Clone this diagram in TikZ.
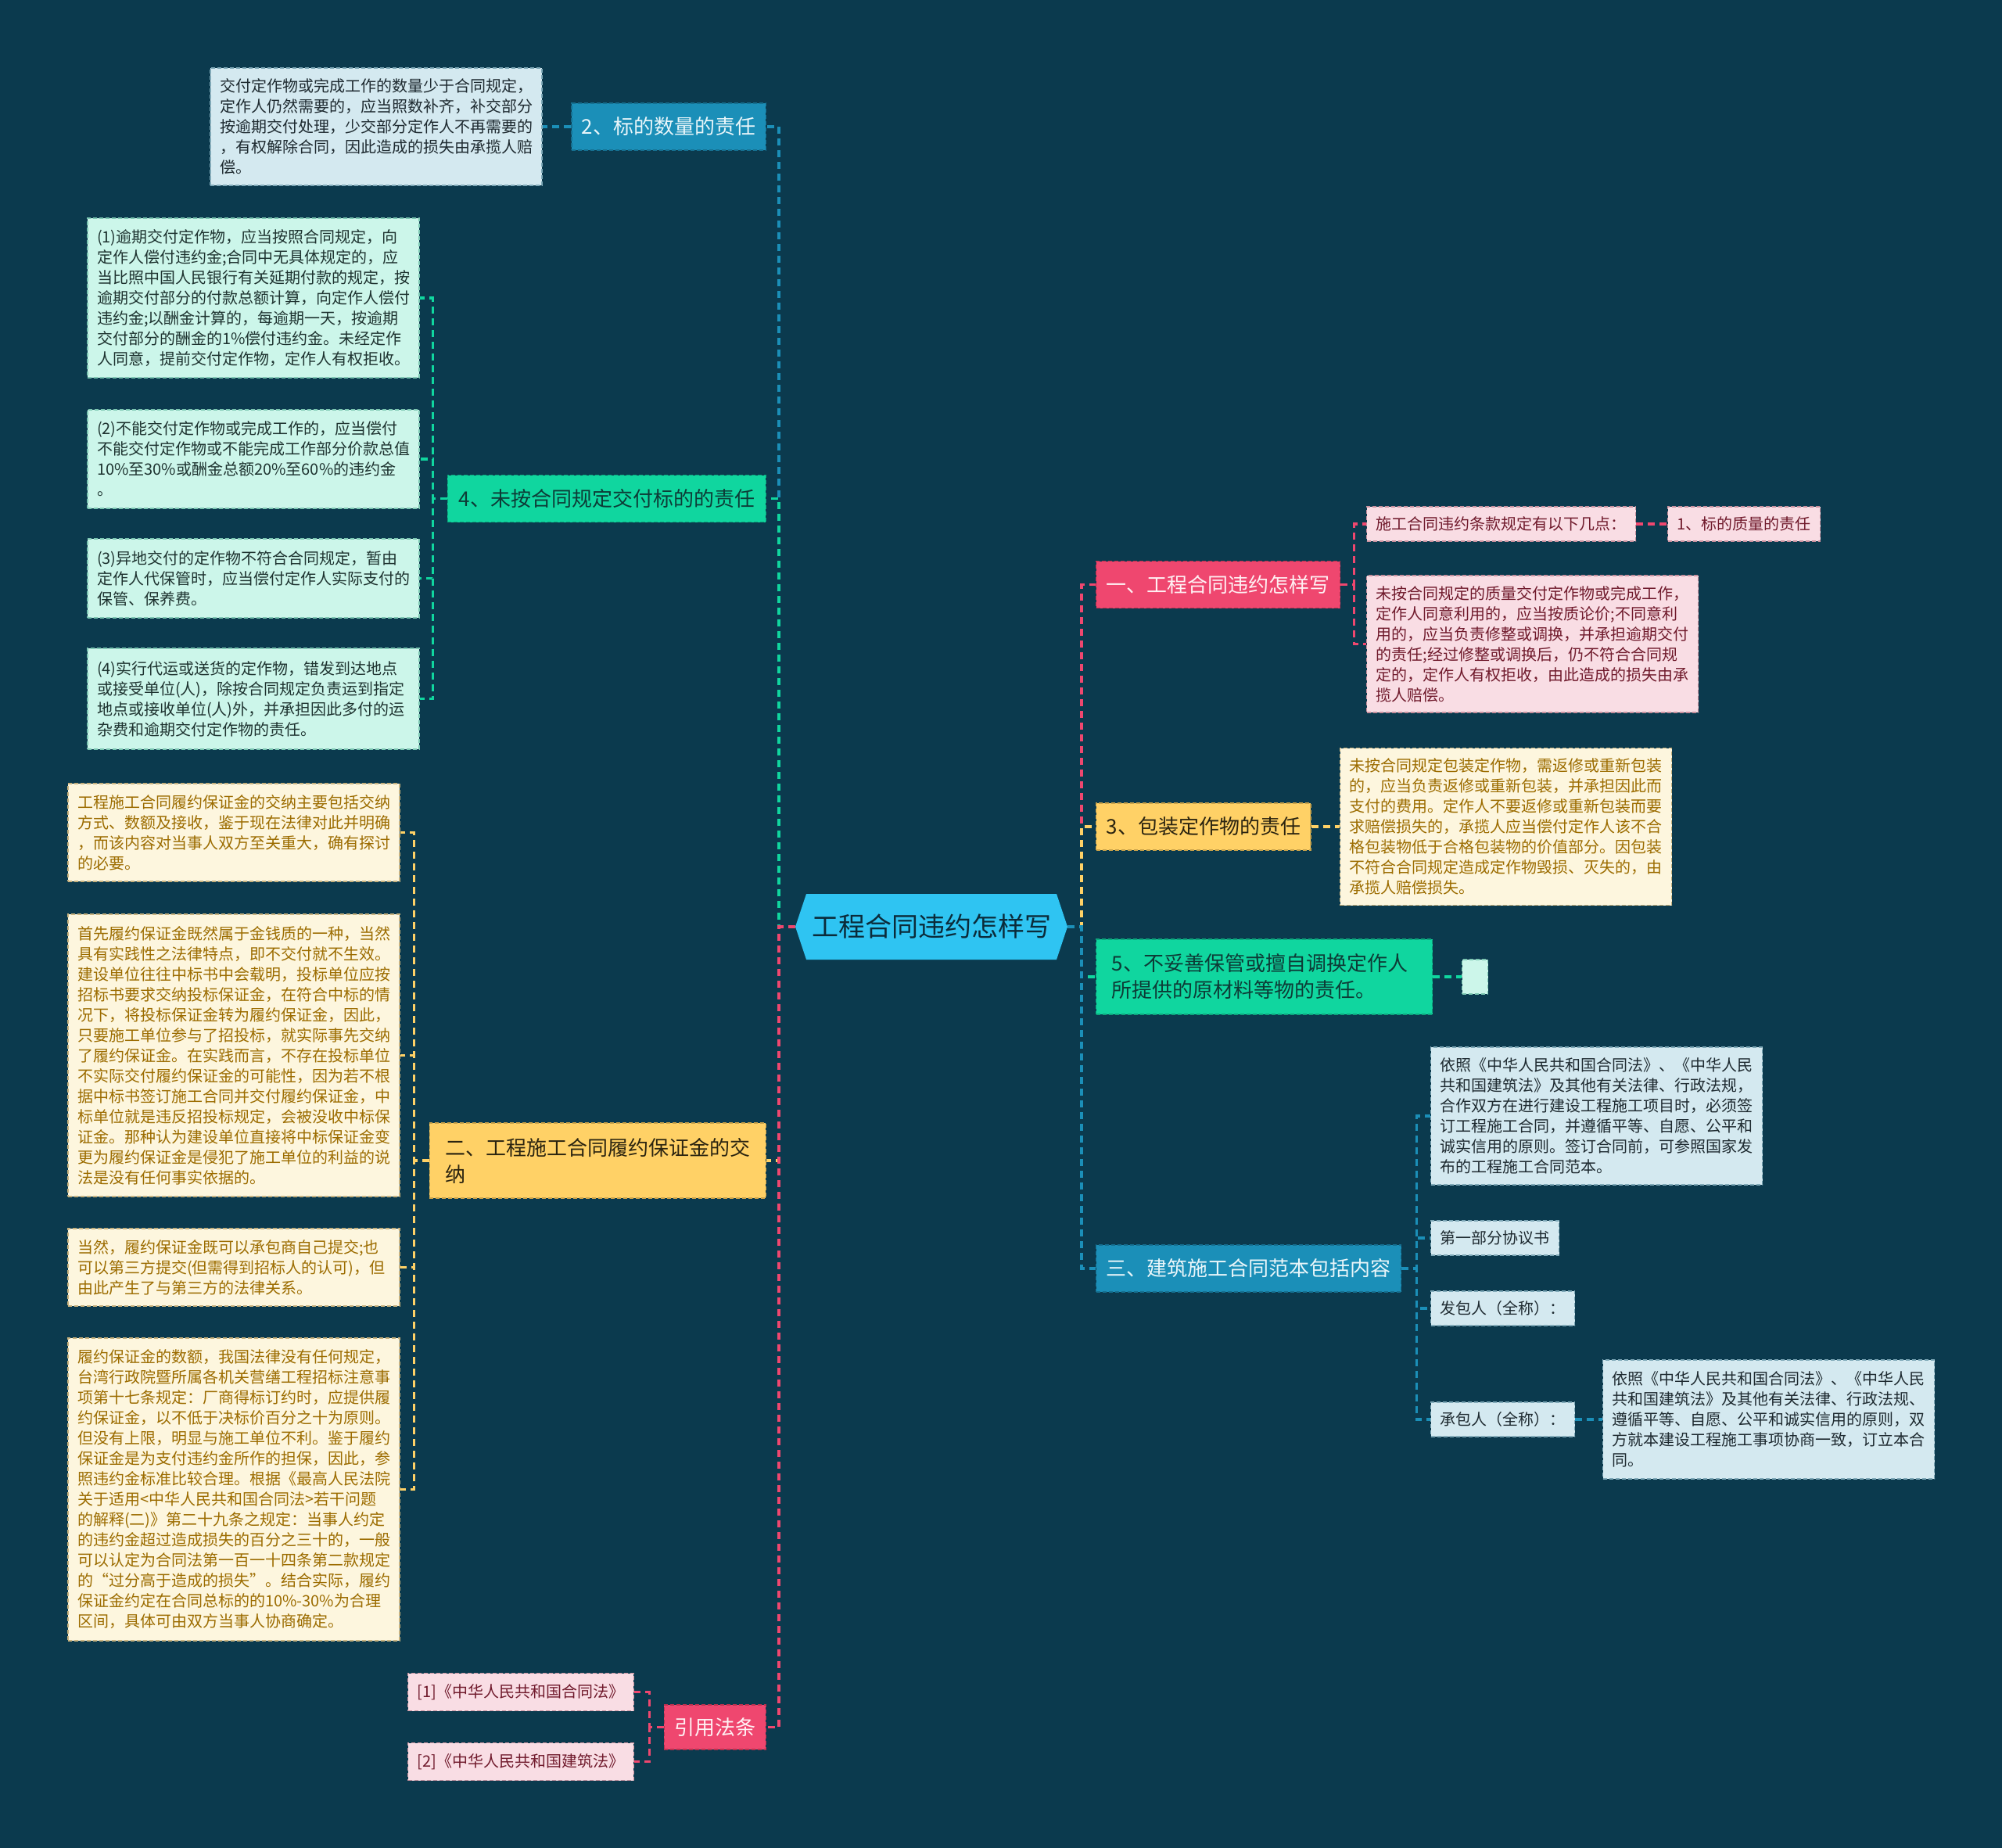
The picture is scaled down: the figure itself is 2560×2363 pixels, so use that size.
\documentclass[tikz,border=0pt]{standalone}
\usepackage{fontspec}
\setmainfont{Noto Sans CJK SC}
\definecolor{bg}{HTML}{0B3A4E}
\definecolor{cB}{HTML}{1B8FB8}
\definecolor{cBd}{HTML}{156F90}
\definecolor{tB}{HTML}{E9F6FA}
\definecolor{cG}{HTML}{10D69F}
\definecolor{cGd}{HTML}{0CA67C}
\definecolor{tG}{HTML}{0D3B36}
\definecolor{cY}{HTML}{FFD166}
\definecolor{cYd}{HTML}{C9A24A}
\definecolor{tY}{HTML}{2B2410}
\definecolor{cP}{HTML}{EF476F}
\definecolor{cPd}{HTML}{B8304F}
\definecolor{tP}{HTML}{FFF0F3}
\definecolor{cC}{HTML}{2FC4F2}
\definecolor{tC}{HTML}{0B2B3A}
\definecolor{fB}{HTML}{D4E9F0}
\definecolor{dB}{HTML}{7FA9B8}
\definecolor{xB}{HTML}{1E2A30}
\definecolor{fG}{HTML}{CCF6EA}
\definecolor{dG}{HTML}{7CC7B2}
\definecolor{xG}{HTML}{1E3330}
\definecolor{fY}{HTML}{FDF6DE}
\definecolor{dY}{HTML}{C8B27E}
\definecolor{xY}{HTML}{9C6C00}
\definecolor{fP}{HTML}{F9DDE4}
\definecolor{dP}{HTML}{C9909E}
\definecolor{xP}{HTML}{701A2C}
\tikzset{
  leaf/.style={draw, dash pattern=on 5pt off 3pt, line width=1.2pt,
    font=\fontsize{20pt}{26pt}\selectfont, inner xsep=12pt, inner ysep=0pt, align=left},
  mlt/.style={leaf, text width=400pt},
  lB/.style={fill=fB, draw=dB, text=xB},
  lG/.style={fill=fG, draw=dG, text=xG},
  lY/.style={fill=fY, draw=dY, text=xY},
  lP/.style={fill=fP, draw=dP, text=xP},
  topn/.style={draw, dash pattern=on 5pt off 3pt, line width=1.2pt,
    font=\fontsize{26pt}{34pt}\selectfont, inner xsep=13pt, inner ysep=0pt, minimum height=60pt},
  twon/.style={topn, text width=390pt, inner xsep=20pt, minimum height=96pt, align=left},
  nB/.style={fill=cB, draw=cBd, text=tB},
  nG/.style={fill=cG, draw=cGd, text=tG},
  nY/.style={fill=cY, draw=cYd, text=tY},
  nP/.style={fill=cP, draw=cPd, text=tP},
  edge/.style={line width=3.2pt, dash pattern=on 9pt off 6pt},
  eB/.style={edge, draw=cB},
  eG/.style={edge, draw=cG},
  eY/.style={edge, draw=cY},
  eP/.style={edge, draw=cP},
}
\begin{document}
\begin{tikzpicture}[x=1pt,y=-1pt]
\fill[bg] (0,0) rectangle (2560,2363);
\useasboundingbox (0,0) rectangle (2560,2363);

% central
\coordinate (cL) at (1017,1185);
\coordinate (cR) at (1365,1185);
\coordinate (lt) at (996,1185);
\coordinate (rt) at (1383,1185);
\fill[cC] (cL) -- (1031,1143) -- (1351,1143) -- (cR) -- (1351,1227) -- (1031,1227) -- cycle;
\node[font=\fontsize{34pt}{40pt}\selectfont, text=tC] (c) at (1191,1185) {工程合同违约怎样写};

% ---- left side ----
\node[mlt,lB,minimum height=150pt] (A) at (481,162) {交付定作物或完成工作的数量少于合同规定，\\定作人仍然需要的，应当照数补齐，补交部分\\按逾期交付处理，少交部分定作人不再需要的\\，有权解除合同，因此造成的损失由承揽人赔\\偿。};
\node[topn,nB,anchor=east] (n2) at (980,162) {2、标的数量的责任};

\node[mlt,lG,minimum height=204pt] (B1) at (324,381) {(1)逾期交付定作物，应当按照合同规定，向\\定作人偿付违约金;合同中无具体规定的，应\\当比照中国人民银行有关延期付款的规定，按\\逾期交付部分的付款总额计算，向定作人偿付\\违约金;以酬金计算的，每逾期一天，按逾期\\交付部分的酬金的1\%偿付违约金。未经定作\\人同意，提前交付定作物，定作人有权拒收。};
\node[mlt,lG,minimum height=126pt] (B2) at (324,587) {(2)不能交付定作物或完成工作的，应当偿付\\不能交付定作物或不能完成工作部分价款总值\\10\%至30\%或酬金总额20\%至60\%的违约金\\。};
\node[mlt,lG,minimum height=101pt] (B3) at (324,739.5) {(3)异地交付的定作物不符合合同规定，暂由\\定作人代保管时，应当偿付定作人实际支付的\\保管、保养费。};
\node[mlt,lG,minimum height=129pt] (B4) at (324,893.5) {(4)实行代运或送货的定作物，错发到达地点\\或接受单位(人)，除按合同规定负责运到指定\\地点或接收单位(人)外，并承担因此多付的运\\杂费和逾期交付定作物的责任。};
\node[topn,nG,anchor=east,minimum width=407pt] (n4) at (980,637.5) {4、未按合同规定交付标的的责任};

\node[mlt,lY,minimum height=125pt] (C1) at (299,1064.5) {工程施工合同履约保证金的交纳主要包括交纳\\方式、数额及接收，鉴于现在法律对此并明确\\，而该内容对当事人双方至关重大，确有探讨\\的必要。};
\node[mlt,lY,minimum height=361pt] (C2) at (299,1349.5) {首先履约保证金既然属于金钱质的一种，当然\\具有实践性之法律特点，即不交付就不生效。\\建设单位往往中标书中会载明，投标单位应按\\招标书要求交纳投标保证金，在符合中标的情\\况下，将投标保证金转为履约保证金，因此，\\只要施工单位参与了招投标，就实际事先交纳\\了履约保证金。在实践而言，不存在投标单位\\不实际交付履约保证金的可能性，因为若不根\\据中标书签订施工合同并交付履约保证金，中\\标单位就是违反招投标规定，会被没收中标保\\证金。那种认为建设单位直接将中标保证金变\\更为履约保证金是侵犯了施工单位的利益的说\\法是没有任何事实依据的。};
\node[mlt,lY,minimum height=99pt] (C3) at (299,1620.5) {当然，履约保证金既可以承包商自己提交;也\\可以第三方提交(但需得到招标人的认可)，但\\由此产生了与第三方的法律关系。};
\node[mlt,lY,minimum height=387pt] (C4) at (299,1904.5) {履约保证金的数额，我国法律没有任何规定，\\台湾行政院暨所属各机关营缮工程招标注意事\\项第十七条规定：厂商得标订约时，应提供履\\约保证金，以不低于决标价百分之十为原则。\\但没有上限，明显与施工单位不利。鉴于履约\\保证金是为支付违约金所作的担保，因此，参\\照违约金标准比较合理。根据《最高人民法院\\关于适用<中华人民共和国合同法>若干问题\\的解释(二)》第二十九条之规定：当事人约定\\的违约金超过造成损失的百分之三十的，一般\\可以认定为合同法第一百一十四条第二款规定\\的“过分高于造成的损失”。结合实际，履约\\保证金约定在合同总标的的10\%-30\%为合理\\区间，具体可由双方当事人协商确定。};
\node[twon,nY,anchor=east] (nT) at (980,1484) {二、工程施工合同履约保证金的交\\纳};

\node[leaf,lP,anchor=east,minimum height=48pt] (R1) at (811,2163.5) {[1]《中华人民共和国合同法》};
\node[leaf,lP,anchor=east,minimum height=48pt] (R2) at (811,2252.5) {[2]《中华人民共和国建筑法》};
\node[topn,nP,anchor=east,minimum height=57pt] (nR) at (980,2208.5) {引用法条};

% ---- right side ----
\node[topn,nP,anchor=west] (m1) at (1401,747.5) {一、工程合同违约怎样写};
\node[leaf,lP,anchor=west,minimum height=44pt] (P1) at (1747,670) {施工合同违约条款规定有以下几点：};
\node[leaf,lP,anchor=west,minimum height=44pt] (P2) at (2132,670) {1、标的质量的责任};
\node[mlt,lP,anchor=west,minimum height=175pt] (P3) at (1747,823.5) {未按合同规定的质量交付定作物或完成工作，\\定作人同意利用的，应当按质论价;不同意利\\用的，应当负责修整或调换，并承担逾期交付\\的责任;经过修整或调换后，仍不符合合同规\\定的，定作人有权拒收，由此造成的损失由承\\揽人赔偿。};

\node[topn,nY,anchor=west] (m3) at (1401,1057) {3、包装定作物的责任};
\node[mlt,lY,anchor=west,minimum height=201pt] (Y1) at (1713,1057) {未按合同规定包装定作物，需返修或重新包装\\的，应当负责返修或重新包装，并承担因此而\\支付的费用。定作人不要返修或重新包装而要\\求赔偿损失的，承揽人应当偿付定作人该不合\\格包装物低于合格包装物的价值部分。因包装\\不符合合同规定造成定作物毁损、灭失的，由\\承揽人赔偿损失。};

\node[twon,nG,anchor=west] (m5) at (1401,1249) {5、不妥善保管或擅自调换定作人\\所提供的原材料等物的责任。};
\node[leaf,lG,anchor=west,inner sep=0pt,minimum width=33pt,minimum height=44pt] (G1) at (1869,1249) {};

\node[topn,nB,anchor=west] (m6) at (1401,1622) {三、建筑施工合同范本包括内容};
\node[mlt,lB,anchor=west,minimum height=176pt] (L1) at (1829,1427) {依照《中华人民共和国合同法》、《中华人民\\共和国建筑法》及其他有关法律、行政法规，\\合作双方在进行建设工程施工项目时，必须签\\订工程施工合同，并遵循平等、自愿、公平和\\诚实信用的原则。签订合同前，可参照国家发\\布的工程施工合同范本。};
\node[leaf,lB,anchor=west,minimum height=44pt] (L2) at (1829,1583) {第一部分协议书};
\node[leaf,lB,anchor=west,minimum height=44pt] (L3) at (1829,1673) {发包人（全称）：};
\node[leaf,lB,anchor=west,minimum height=44pt] (L4) at (1829,1815) {承包人（全称）：};
\node[mlt,lB,anchor=west,minimum height=152pt] (L5) at (2049,1815) {依照《中华人民共和国合同法》、《中华人民\\共和国建筑法》及其他有关法律、行政法规、\\遵循平等、自愿、公平和诚实信用的原则，双\\方就本建设工程施工事项协商一致，订立本合\\同。};

% ---- connectors: left ----
\draw[eB] (cL) -- (lt) |- (n2.east);
\draw[eG] (cL) -- (lt) |- (n4.east);
\draw[eY] (cL) -- (lt) |- (nT.east);
\draw[eP] (cL) -- (lt) |- (nR.east);
\draw[eB] (n2.west) -- (A.east);
\foreach \k in {B1,B2,B3,B4} \draw[eG] (n4.west) -- ++(-18,0) |- (\k.east);
\foreach \k in {C1,C2,C3,C4} \draw[eY] (nT.west) -- ++(-19,0) |- (\k.east);
\foreach \k in {R1,R2} \draw[eP] (nR.west) -- ++(-18,0) |- (\k.east);

% ---- connectors: right ----
\draw[eP] (cR) -- (rt) |- (m1.west);
\draw[eY] (cR) -- (rt) |- (m3.west);
\draw[eG] (cR) -- (rt) |- (m5.west);
\draw[eB] (cR) -- (rt) |- (m6.west);
\foreach \k in {P1,P3} \draw[eP] (m1.east) -- ++(17,0) |- (\k.west);
\draw[eP] (P1.east) -- (P2.west);
\draw[eY] (m3.east) -- (Y1.west);
\draw[eG] (m5.east) -- (G1.west);
\foreach \k in {L1,L2,L3,L4} \draw[eB] (m6.east) -- ++(19,0) |- (\k.west);
\draw[eB] (L4.east) -- (L5.west);
\end{tikzpicture}
\end{document}
